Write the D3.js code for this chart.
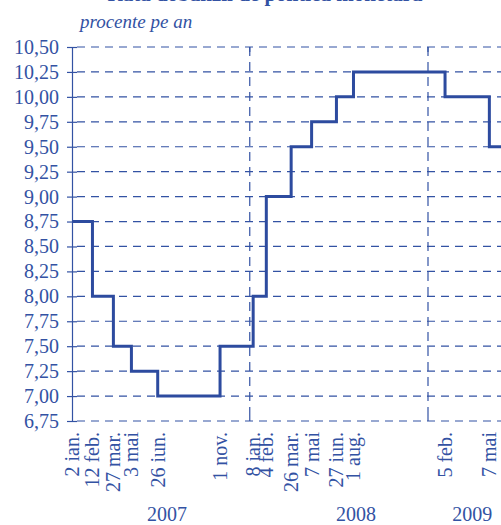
<!DOCTYPE html>
<html>
<head>
<meta charset="utf-8">
<script src="https://cdn.jsdelivr.net/npm/d3@7"></script>
<style>
  body { margin: 0; background: #fff; }
  text { font-family: "Liberation Serif", "Times New Roman", serif; fill: #3352a3; }
</style>
</head>
<body>
<div id="chart"></div>
<script>
// rata dobanzii de politica monetara, procente pe an
var changeDates = ["2007-01-02", "2007-02-12", "2007-03-27", "2007-05-03", "2007-06-26", "2007-11-01",
                   "2008-01-08", "2008-02-04", "2008-03-26", "2008-05-07", "2008-06-27", "2008-08-01",
                   "2009-02-05", "2009-05-07"];
var rates = [8.75, 8.00, 7.50, 7.25, 7.00, 7.50, 8.00, 9.00, 9.50, 9.75, 10.00, 10.25, 10.00, 9.50];
var dateLabels = ["2 ian.", "12 feb.", "27 mar.", "3 mai", "26 iun.", "1 nov.",
                  "8 ian.", "4 feb.", "26 mar.", "7 mai", "27 iun.", "1 aug.",
                  "5 feb.", "7 mai"];
var yTicks = [6.75, 7.00, 7.25, 7.50, 7.75, 8.00, 8.25, 8.50, 8.75, 9.00, 9.25, 9.50, 9.75, 10.00, 10.25, 10.50];
var years = ["2007", "2008", "2009"];
var yearLabelDates = ["2007-07-15", "2008-08-06", "2009-04-02"];
var yearStarts = ["2007-01-01", "2008-01-01", "2009-01-01"];

var param = {
  width: 501,
  height: 525,
  left: 72,
  top: 47,
  bottom: 421,
  color: "#3352a3",
  lineColor: "#2d4b9f"
};

var parse = d3.timeParse("%Y-%m-%d");

var x = d3.scaleTime()
  .domain([parse("2007-01-01"), parse("2009-01-01")])
  .range([param.left, 428]);
// extend to right edge of window
x.domain([x.domain()[0], x.invert(param.width)]).range([param.left, param.width]);

var y = d3.scaleLinear()
  .domain([6.75, 10.50])
  .range([param.bottom, param.top]);

var svg = d3.select("#chart").append("svg")
  .attr("width", param.width)
  .attr("height", param.height);

// title, cut off at the top as in the source picture
svg.append("text")
  .attr("x", 265)
  .attr("y", 1)
  .attr("text-anchor", "middle")
  .style("font-size", "21px")
  .style("font-weight", "bold")
  .text("Rata dobânzii de politică monetară");

svg.append("text")
  .attr("x", 80)
  .attr("y", 28)
  .style("font-size", "19px")
  .style("font-style", "italic")
  .text("procente pe an");

// horizontal grid
svg.append("g").selectAll("line")
  .data(yTicks)
  .enter().append("line")
  .attr("x1", param.left + 5)
  .attr("x2", param.width)
  .attr("y1", function(d) { return y(d); })
  .attr("y2", function(d) { return y(d); })
  .style("stroke", param.color)
  .style("stroke-width", 1.2)
  .style("stroke-dasharray", "8,6");

// year dividers
svg.append("g").selectAll("line")
  .data(yearStarts.slice(1))
  .enter().append("line")
  .attr("x1", function(d) { return x(parse(d)); })
  .attr("x2", function(d) { return x(parse(d)); })
  .attr("y1", param.top)
  .attr("y2", param.bottom)
  .style("stroke", param.color)
  .style("stroke-width", 1.2)
  .style("stroke-dasharray", "9,6");

// small year ticks top and bottom
yearStarts.slice(1).forEach(function(d) {
  svg.append("line").attr("x1", x(parse(d))).attr("x2", x(parse(d)))
    .attr("y1", param.top).attr("y2", param.top + 5)
    .style("stroke", param.color).style("stroke-width", 1.2);
  svg.append("line").attr("x1", x(parse(d))).attr("x2", x(parse(d)))
    .attr("y1", param.bottom - 5).attr("y2", param.bottom)
    .style("stroke", param.color).style("stroke-width", 1.2);
});

// y axis
var yAxis = d3.axisLeft(y)
  .tickValues(yTicks)
  .tickSize(5)
  .tickPadding(8)
  .tickFormat(function(d) { return d3.format(".2f")(d).replace(".", ","); });

var gy = svg.append("g")
  .attr("transform", "translate(" + param.left + ",0)")
  .call(yAxis)
  .attr("font-family", "Liberation Serif")
  .attr("font-size", 20);
gy.select(".domain").style("stroke", param.color).style("stroke-width", 1.2);
gy.selectAll(".tick line").attr("x2", 5).attr("x1", -5)
  .style("stroke", param.color).style("stroke-width", 1.2);
gy.selectAll(".tick text")
  .style("font-size", "20px")
  .style("fill", param.color)
  .style("font-family", "'Liberation Serif', serif");

// step line
var points = changeDates.map(function(d, i) { return {date: parse(d), value: rates[i]}; });
points.push({date: x.domain()[1], value: rates[rates.length - 1]});

var line = d3.line()
  .x(function(d) { return x(d.date); })
  .y(function(d) { return y(d.value); })
  .curve(d3.curveStepAfter);

svg.append("path")
  .datum(points)
  .attr("d", line)
  .style("fill", "none")
  .style("stroke", param.lineColor)
  .style("stroke-width", 3)
  .style("stroke-linejoin", "miter");

// rotated date labels
svg.append("g").selectAll("text")
  .data(changeDates)
  .enter().append("text")
  .attr("transform", function(d) { return "translate(" + x(parse(d)) + "," + (param.bottom + 11) + ") rotate(-90)"; })
  .attr("dy", "0.35em")
  .attr("text-anchor", "end")
  .style("font-size", "20px")
  .text(function(d, i) { return dateLabels[i]; });

// years
svg.append("g").selectAll("text")
  .data(years)
  .enter().append("text")
  .attr("x", function(d, i) { return x(parse(yearLabelDates[i])); })
  .attr("y", 521)
  .attr("text-anchor", "middle")
  .style("font-size", "20px")
  .text(function(d) { return d; });
</script>
</body>
</html>
